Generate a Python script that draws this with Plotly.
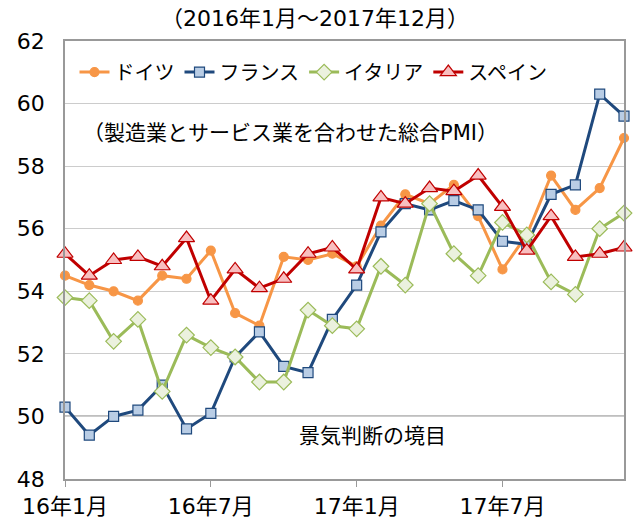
import plotly.graph_objects as go

months = list(range(24))
tick_vals = [0, 6, 12, 18]
tick_text = ["16年1月", "16年7月", "17年1月", "17年7月"]

germany = [54.5, 54.2, 54.0, 53.7, 54.5, 54.4, 55.3, 53.3, 52.9, 55.1, 55.0, 55.2,
           54.8, 56.1, 57.1, 56.8, 57.4, 56.4, 54.7, 55.8, 57.7, 56.6, 57.3, 58.9]
france = [50.3, 49.4, 50.0, 50.2, 51.0, 49.6, 50.1, 51.9, 52.7, 51.6, 51.4, 53.1,
          54.2, 55.9, 56.8, 56.6, 56.9, 56.6, 55.6, 55.5, 57.1, 57.4, 60.3, 59.6]
italy = [53.8, 53.7, 52.4, 53.1, 50.8, 52.6, 52.2, 51.9, 51.1, 51.1, 53.4, 52.9,
         52.8, 54.8, 54.2, 56.8, 55.2, 54.5, 56.2, 55.8, 54.3, 53.9, 56.0, 56.5]
spain = [55.2, 54.5, 55.0, 55.1, 54.8, 55.7, 53.7, 54.7, 54.1, 54.4, 55.2, 55.4,
         54.7, 57.0, 56.8, 57.3, 57.2, 57.7, 56.7, 55.3, 56.4, 55.1, 55.2, 55.4]

names = ["ドイツ", "フランス", "イタリア", "スペイン"]

FONT = "DejaVu Sans, Noto Sans CJK JP, sans-serif"

fig = go.Figure()
styles = [
    (germany, "#F79646", "circle", "#F79646", "#F79646", 9),
    (france, "#1F497D", "square", "#B9CDE5", "#1F497D", 10),
    (italy, "#9BBB59", "diamond", "#EBF1DE", "#9BBB59", 12),
    (spain, "#C00000", "triangle-up", "#F8BFC0", "#C00000", 14),
]
for name, (vals, lc, sym, fc, mlc, sz) in zip(names, styles):
    fig.add_trace(go.Scatter(
        x=months, y=vals, name=name, mode="lines+markers",
        line=dict(color=lc, width=3),
        marker=dict(symbol=sym, size=sz, color=fc, line=dict(color=mlc, width=1.2)),
        cliponaxis=False,
    ))

fig.add_shape(type="line", xref="paper", x0=0, x1=1, yref="y", y0=50, y1=50,
              line=dict(color="black", width=1.3), layer="below")

fig.add_annotation(text="（2016年1月～2017年12月）", xref="paper", yref="paper",
                   x=0.447, y=1.0, yanchor="middle", yshift=23, showarrow=False,
                   font=dict(size=22, color="black", family=FONT))
fig.add_annotation(text="（製造業とサービス業を合わせた総合PMI）", xref="paper", yref="y",
                   x=0.028, y=59.05, xanchor="left", yanchor="middle", showarrow=False,
                   font=dict(size=21, color="black", family=FONT))
fig.add_annotation(text="景気判断の境目", xref="x", yref="y",
                   x=12.64, y=49.37, showarrow=False,
                   font=dict(size=21, color="black", family=FONT))

fig.update_layout(
    width=640, height=521,
    margin=dict(l=65, r=16, t=41, b=42, autoexpand=False),
    paper_bgcolor="white", plot_bgcolor="white",
    font=dict(family=FONT, size=22, color="black"),
    showlegend=True,
    legend=dict(orientation="h", x=0.017, y=0.929, xanchor="left", yanchor="middle",
                bgcolor="rgba(0,0,0,0)", font=dict(size=20, family=FONT),
                itemwidth=30, tracegroupgap=0),
    xaxis=dict(range=[0, 23], tickvals=tick_vals, ticktext=tick_text,
               showgrid=False, zeroline=False, automargin=False,
               showline=True, linecolor="#999999", linewidth=1.5, mirror=True,
               ticks="outside", ticklen=6, tickcolor="#999999",
               ticklabelstandoff=1, tickfont=dict(size=22)),
    yaxis=dict(range=[48, 62], dtick=2, showgrid=True, gridcolor="#CCCCCC", gridwidth=1.2,
               zeroline=False, automargin=False, showline=True, linecolor="#999999",
               linewidth=1.5, mirror=True,
               ticks="", ticklabelstandoff=14, tickfont=dict(size=22)),
)

fig.write_html("out.html", config={"displayModeBar": False},
               post_script="document.body.style.margin='0';")
